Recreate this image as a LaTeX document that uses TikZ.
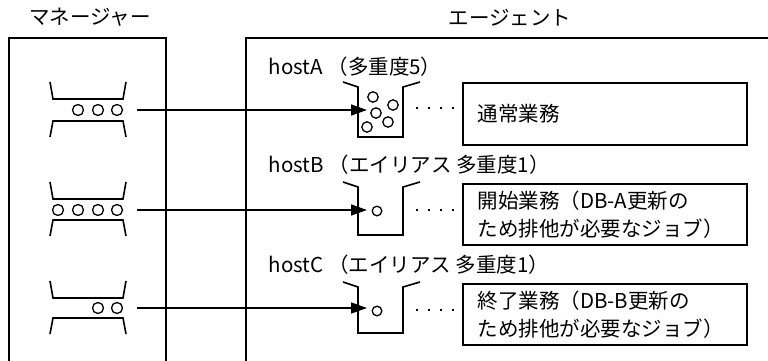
\documentclass[tikz,border=0pt]{standalone}
\usepackage{fontspec}
\setmainfont{Noto Sans CJK JP}
\usetikzlibrary{arrows.meta,positioning}
\newcommand\jpfont{\fontsize{20.5}{28}\selectfont}

\begin{document}
\begin{tikzpicture}[x=1pt,y=-1pt,line width=1.6pt,
  title/.style={font=\jpfont,inner sep=0pt},
  hosttext/.style={font=\jpfont,anchor=west,inner sep=0pt},
  jobbox/.style={draw,rectangle,anchor=north west,minimum width=284pt,minimum height=62pt,text width=254pt,inner xsep=15pt,align=left,font=\jpfont},
  feed/.style={-{Triangle[length=16pt,width=11pt]}},
  dotrow/.style={line width=2.4pt,dash pattern=on 2.4pt off 9.6pt},
  ball/.style={line width=1.3pt},
]
\useasboundingbox (0,0) rectangle (768,361);

% titles and frames
\node[title] (mgr) at (90,17) {マネージャー};
\node[title] (agt) at (510,18) {エージェント};
\draw (9,361) -- (9,38) -- (166,38) -- (166,361);
\draw (246,361) -- (246,38) -- (768,38);

% manager queues
\foreach \t/\b in {82/137,182/236,281/334}{
  \draw (50,\t) -- (53,\t+17) -- (123,\t+17) -- (126,\t);
  \draw (50,\b) -- (53,\b-16) -- (123,\b-16) -- (126,\b);
}
\foreach \x in {78,98,117} \draw[ball] (\x,110) circle (5.5);
\foreach \x in {58,78,98,117} \draw[ball] (\x,210) circle (5.5);
\foreach \x in {98,117} \draw[ball] (\x,308) circle (5.5);

% agent queues
\foreach \t/\b in {82/137,182/235,282/333}{
  \draw (343,\t) -- (358,\t+5) -- (358,\b) -- (403,\b) -- (403,\t+5) -- (420,\t);
}
\foreach \p in {(373,97),(393,105),(376,113),(367,127),(388,122)} \draw[ball] \p circle (5.2);
\draw[ball] (377,211) circle (4.8);
\draw[ball] (377,311) circle (4.8);

% host labels
\node[hosttext] (hA) at (268,67) {hostA （多重度5）};
\node[hosttext] (hB) at (268,165) {hostB （エイリアス 多重度1）};
\node[hosttext] (hC) at (268,265) {hostC （エイリアス 多重度1）};

% jobs
\node[jobbox] (jobA) at (462,82) {通常業務};
\node[jobbox,minimum height=61pt] (jobB) at (462,183) {開始業務（DB-A更新の\\ため排他が必要なジョブ）};
\node[jobbox,minimum height=61pt] (jobC) at (462,283) {終了業務（DB-B更新の\\ため排他が必要なジョブ）};

% connectors
\coordinate (m1) at (137,110);
\coordinate (m2) at (137,210);
\coordinate (m3) at (137,308);
\coordinate (a1) at (367,110);
\coordinate (a2) at (367,210);
\coordinate (a3) at (367,308);
\draw[feed] (m1) -- (a1);
\draw[feed] (m2) -- (a2);
\draw[feed] (m3) -- (a3);

\coordinate (d1) at (416,108);
\coordinate (d2) at (416,210);
\coordinate (d3) at (416,310);
\draw[dotrow] (d1) -- (jobA.west |- d1);
\draw[dotrow] (d2) -- (jobB.west |- d2);
\draw[dotrow] (d3) -- (jobC.west |- d3);
\end{tikzpicture}
\end{document}
